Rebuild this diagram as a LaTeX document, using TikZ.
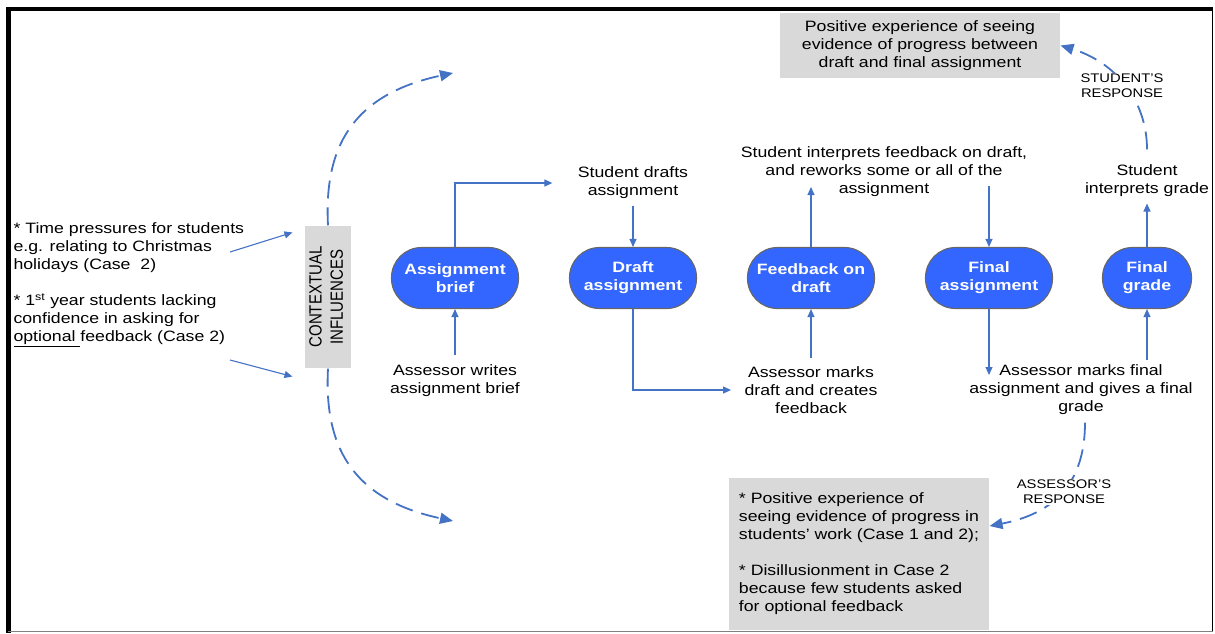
\documentclass[tikz,border=0pt]{standalone}
\usepackage{fontspec}
\setmainfont{Liberation Sans}[FakeStretch=1.18]
\newfontfamily\uprightfont{Liberation Sans}
\usetikzlibrary{arrows.meta, positioning}

\definecolor{linkblue}{RGB}{68,114,196}
\definecolor{stageblue}{RGB}{51,102,255}
\definecolor{boxgrey}{RGB}{217,217,217}

\begin{document}
\begin{tikzpicture}[
            x = 1pt, y = -1pt, % one unit per pixel, y runs down
            > = {Triangle[length=8pt, width=7pt]}, % arrow head style
            node distance = 178pt, % distance between stages
            font = \fontsize{15}{18}\selectfont,
            line width = 1.1pt
        ]

        \tikzstyle{stage}=[
            draw = black!60,
            fill = stageblue,
            text = white,
            font = \fontsize{15}{18}\selectfont\bfseries,
            align = center,
            rounded corners = 30pt,
            minimum width = 127pt,
            minimum height = 61pt,
            inner sep = 0pt
        ]
        \tikzstyle{blurb}=[align = center, inner sep = 0pt]
        \tikzstyle{greybox}=[fill = boxgrey, inner sep = 0pt]
        \tikzstyle{link}=[->, draw = linkblue]
        \tikzstyle{response}=[
            -{Triangle[length=13pt, width=11pt]},
            draw = linkblue,
            line width = 1.8pt,
            dash pattern = on 18pt off 9pt
        ]
        \tikzstyle{resptext}=[
            fill = white,
            inner sep = 1pt,
            align = center,
            font = \fontsize{12.5}{15}\selectfont
        ]

        \useasboundingbox (0,0) rectangle (1215,633);

        % stages
        \node[stage] (brief) at (455,278) {Assignment\\brief};
        \node[stage] (draft) [right of=brief] {Draft\\assignment};
        \node[stage] (feedback) [right of=draft] {Feedback on\\draft};
        \node[stage] (final) [right of=feedback] {Final\\assignment};
        \node[stage, minimum width=89pt] (grade) [right of=final, xshift=-20pt] {Final\\grade};

        % what student and assessor do
        \node[blurb] (sda) at (633,183) {Student drafts\\assignment};
        \node[blurb] (awb) at (455,381) {Assessor writes\\assignment brief};
        \node[blurb] (sif) at (884,172) {Student interprets feedback on draft,\\and reworks some or all of the\\assignment};
        \node[blurb] (amd) at (811,390) {Assessor marks\\draft and creates\\feedback};
        \node[blurb] (amf) at (1081,390) {Assessor marks final\\assignment and gives a final\\grade};
        \node[blurb] (sig) at (1147,181) {Student\\interprets grade};

        % influences and responses
        \node[blurb, align=left, anchor=north west] (pressures) at (13,222)
            {* Time pressures for students\\
             e.g. relating to Christmas\\
             holidays (Case~~2)\\[18pt]
             * 1\textsuperscript{st} year students lacking\\
             confidence in asking for\\
             \underline{optional }feedback (Case 2)};
        \node[greybox, minimum width=46pt, minimum height=142pt] (ctx) at (328,297)
            {\rotatebox{90}{\scalebox{1}[1.18]{\uprightfont\begin{tabular}{@{}c@{}}CONTEXTUAL\\INFLUENCES\end{tabular}}}};
        \node[greybox, minimum width=280pt, minimum height=65pt, align=center] (spos) at (920,45.5)
            {Positive experience of seeing\\evidence of progress between\\draft and final assignment};
        \node[greybox, minimum width=260pt, minimum height=152pt, align=left] (apos) at (859,554)
            {* Positive experience of\\
             seeing evidence of progress in\\
             students’ work (Case 1 and 2);\\[18pt]
             * Disillusionment in Case 2\\
             because few students asked\\
             for optional feedback};

        % free ends
        \coordinate (sifin) at (811,187);
        \coordinate (sifout) at (989,186);
        \coordinate (amfin) at (989,375);
        \coordinate (amfout) at (1147,360);
        \coordinate (tpin) at (230,252);
        \coordinate (cfin) at (230,360);
        \coordinate (upend) at (453,73);
        \coordinate (downend) at (453,521);

        \draw[link] ([yshift=9pt]awb.north) -- (brief);
        \draw[link] (brief) |- ([xshift=-25pt]sda.west);
        \draw[link] ([yshift=-6pt]sda.south) -- (draft);
        \draw[link] (draft) |- ([xshift=-13pt]amd.west);
        \draw[link] ([yshift=8pt]amd.north) -- (feedback);
        \draw[link] (feedback) -- (sifin);
        \draw[link] (sifout) -- (final);
        \draw[link] (final) -- (amfin);
        \draw[link] (amfout) -- (grade);
        \draw[link] (grade) -- ([yshift=-6pt]sig.south);

        \draw[link] (tpin) -- ([xshift=-12pt,yshift=-7pt]ctx.north west);
        \draw[link] (cfin) -- ([xshift=-12pt,yshift=-8pt]ctx.south west);

        \draw[response] (ctx.north) .. controls (324,150) and (350,95) .. (upend);
        \draw[response] (ctx.south) .. controls (324,444) and (350,499) .. (downend);

        \draw[response] ([yshift=15pt]sig.north) .. controls (1147,100) and (1115,62) .. (spos.east);
        \node[resptext] (sresp) at (1122,86) {STUDENT'S\\RESPONSE};
        \draw[response] ([xshift=4pt,yshift=-7pt]amf.south) .. controls (1085,475) and (1062,512) .. ([yshift=28pt]apos.east);
        \node[resptext] (aresp) at (1064,492) {ASSESSOR'S\\RESPONSE};

        % frame
        \draw[line width=4.5pt] (6,9) -- (1213,9);
        \draw[line width=5pt] (8.5,7) -- (8.5,633);
        \draw[line width=1.5pt] (1212.5,9) -- (1212.5,631);
        \draw[gray, line width=1.5pt] (8,631.5) -- (1213,631.5);

    \end{tikzpicture}
\end{document}
